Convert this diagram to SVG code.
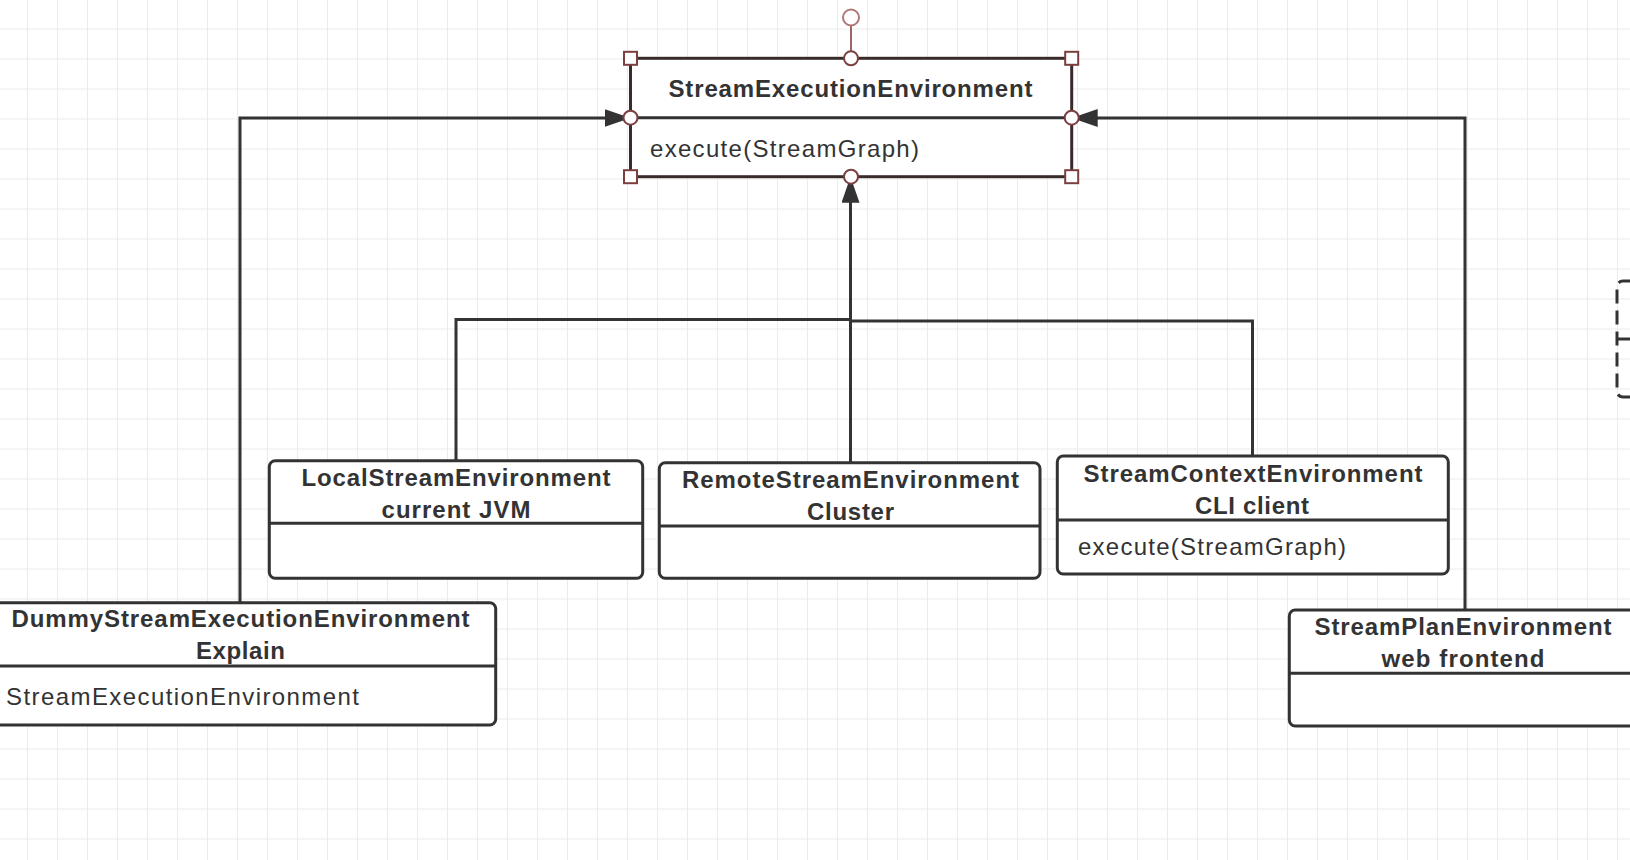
<svg xmlns="http://www.w3.org/2000/svg" width="1630" height="860" viewBox="0 0 1630 860">
<defs>
<pattern id="grid" x="27" y="28.5" width="30" height="30" patternUnits="userSpaceOnUse">
<path d="M0,0 V30 M0,0 H30" fill="none" stroke="#ebebeb" stroke-width="2"/>
</pattern>
<marker id="arrow" markerUnits="userSpaceOnUse" markerWidth="28" markerHeight="20" refX="26" refY="9" orient="auto">
<path d="M0,0 L26,9 L0,18 Z" fill="#333"/>
</marker>
<style>
.box{fill:#fff;stroke:#333;stroke-width:3}
.div{stroke:#333;stroke-width:3}
.conn{fill:none;stroke:#333;stroke-width:3}
.t{font-family:"Liberation Sans",Arial,sans-serif;font-size:24px;fill:#333}
.b{font-weight:bold}
.c{text-anchor:middle}
.h{fill:#fff;stroke:#7b3f3f;stroke-width:2}
</style>
</defs>
<rect width="1630" height="860" fill="#fff"/>
<rect width="1630" height="860" fill="url(#grid)"/>

<g id="connectors">
<path class="conn" d="M240,602.7 V118 H630.5" marker-end="url(#arrow)"/>
<path class="conn" d="M1465,610 V118 H1071.7" marker-end="url(#arrow)"/>
<path class="conn" d="M850.5,462.7 V176.7" marker-end="url(#arrow)"/>
<path class="conn" d="M456,460.7 V319.5 H850.5"/>
<path class="conn" d="M1252.5,456 V321 H850.5"/>
</g>

<g id="StreamExecutionEnvironment">
<rect x="630.5" y="58.3" width="441.2" height="118.4" fill="#fff" stroke="#3a2b2b" stroke-width="3"/>
<line x1="630.5" y1="117.7" x2="1071.7" y2="117.7" stroke="#333" stroke-width="3"/>
<text class="t b c" x="850.5" y="97" textLength="364" lengthAdjust="spacing">StreamExecutionEnvironment</text>
<text class="t" x="650" y="157" textLength="269" lengthAdjust="spacing">execute(StreamGraph)</text>
<line x1="851" y1="25" x2="851" y2="51" stroke="#a06464" stroke-width="2"/>
<circle cx="851" cy="17.5" r="8" fill="#fff" stroke="#b07878" stroke-width="2"/>
<rect class="h" x="624" y="51.8" width="13" height="13"/>
<rect class="h" x="1065.2" y="51.8" width="13" height="13"/>
<rect class="h" x="624" y="170.2" width="13" height="13"/>
<rect class="h" x="1065.2" y="170.2" width="13" height="13"/>
<circle class="h" cx="851" cy="58.3" r="7"/>
<circle class="h" cx="630.5" cy="117.7" r="7"/>
<circle class="h" cx="1071.7" cy="117.7" r="7"/>
<circle class="h" cx="851" cy="176.7" r="7"/>
</g>

<g id="LocalStreamEnvironment">
<rect class="box" x="269.3" y="460.7" width="373.4" height="117.6" rx="6"/>
<line class="div" x1="269.3" y1="523.3" x2="642.7" y2="523.3"/>
<text class="t b c" x="456" y="486" textLength="309" lengthAdjust="spacing">LocalStreamEnvironment</text>
<text class="t b c" x="456" y="518" textLength="149" lengthAdjust="spacing">current JVM</text>
</g>

<g id="RemoteStreamEnvironment">
<rect class="box" x="659.3" y="462.7" width="380.7" height="115.6" rx="6"/>
<line class="div" x1="659.3" y1="526" x2="1040" y2="526"/>
<text class="t b c" x="850.5" y="488" textLength="337" lengthAdjust="spacing">RemoteStreamEnvironment</text>
<text class="t b c" x="850.5" y="520" textLength="87" lengthAdjust="spacing">Cluster</text>
</g>

<g id="StreamContextEnvironment">
<rect class="box" x="1057.3" y="456" width="391" height="118" rx="6"/>
<line class="div" x1="1057.3" y1="520" x2="1448.3" y2="520"/>
<text class="t b c" x="1253" y="482" textLength="339" lengthAdjust="spacing">StreamContextEnvironment</text>
<text class="t b c" x="1252" y="513.5" textLength="114" lengthAdjust="spacing">CLI client</text>
<text class="t" x="1078" y="555" textLength="268" lengthAdjust="spacing">execute(StreamGraph)</text>
</g>

<g id="DummyStreamExecutionEnvironment">
<rect class="box" x="-15" y="602.7" width="510.7" height="122.3" rx="6"/>
<line class="div" x1="-15" y1="666" x2="495.7" y2="666"/>
<text class="t b c" x="240.5" y="627" textLength="458" lengthAdjust="spacing">DummyStreamExecutionEnvironment</text>
<text class="t b c" x="240.5" y="659" textLength="89" lengthAdjust="spacing">Explain</text>
<text class="t" x="6" y="705" textLength="353" lengthAdjust="spacing">StreamExecutionEnvironment</text>
</g>

<g id="StreamPlanEnvironment">
<rect class="box" x="1289.3" y="610" width="352" height="116" rx="6"/>
<line class="div" x1="1289.3" y1="673.3" x2="1641.3" y2="673.3"/>
<text class="t b c" x="1463" y="635" textLength="297" lengthAdjust="spacing">StreamPlanEnvironment</text>
<text class="t b c" x="1463" y="667" textLength="163" lengthAdjust="spacing">web frontend</text>
</g>

<g id="dashed-shape">
<rect x="1617" y="281" width="60" height="116" rx="6" fill="none" stroke="#333" stroke-width="3" stroke-dasharray="14 7"/>
<line x1="1617" y1="339" x2="1632" y2="339" stroke="#333" stroke-width="3"/>
</g>
</svg>
